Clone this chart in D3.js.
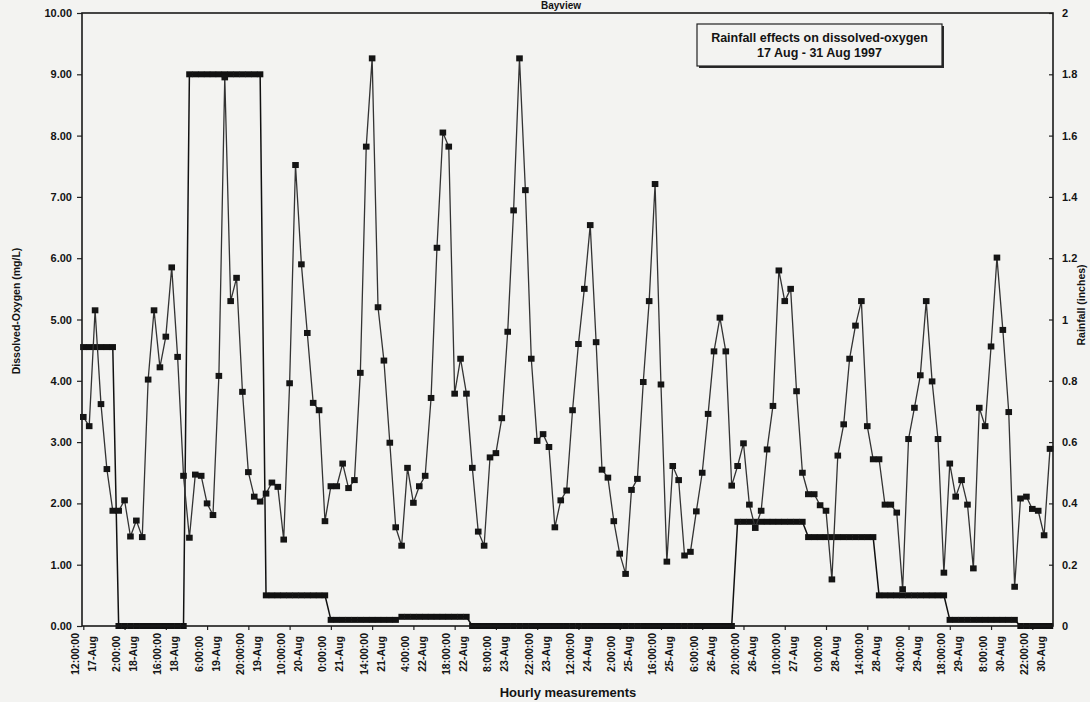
<!DOCTYPE html>
<html>
<head>
<meta charset="utf-8">
<script src="https://cdn.jsdelivr.net/npm/d3@7"></script>
<style>
  body { margin: 0; background: #f3f3f1; }
  svg { display: block; }
  text { font-family: "Liberation Sans", Arial, sans-serif; font-weight: bold; fill: #141414; }
</style>
</head>
<body>
<svg id="chart" width="1090" height="702"></svg>
<script>
// Dissolved oxygen (mg/L), one reading every two hours, 17 Aug 12:00 onward
const dissolvedOxygen = [
  3.41, 3.26, 5.15, 3.62, 2.56, 1.88, 1.88, 2.05, 1.46, 1.72, 1.45, 4.02,
  5.15, 4.22, 4.72, 5.85, 4.39, 2.45, 1.44, 2.47, 2.45, 2.00, 1.81, 4.08,
  8.95, 5.30, 5.68, 3.82, 2.51, 2.11, 2.03, 2.16, 2.34, 2.27, 1.41, 3.96,
  7.52, 5.90, 4.78, 3.64, 3.52, 1.71, 2.28, 2.28, 2.65, 2.25, 2.38, 4.13,
  7.82, 9.26, 5.20, 4.33, 2.99, 1.61, 1.31, 2.58, 2.01, 2.28, 2.45, 3.72,
  6.17, 8.05, 7.82, 3.79, 4.36, 3.79, 2.58, 1.54, 1.31, 2.75, 2.82, 3.39,
  4.80, 6.78, 9.26, 7.11, 4.36, 3.02, 3.13, 2.92, 1.61, 2.05, 2.21, 3.52,
  4.60, 5.50, 6.54, 4.63, 2.55, 2.42, 1.71, 1.18, 0.85, 2.22, 2.40, 3.98,
  5.30, 7.21, 3.94, 1.05, 2.61, 2.38, 1.15, 1.21, 1.87, 2.50, 3.46, 4.48,
  5.03, 4.48, 2.29, 2.61, 2.98, 1.98, 1.60, 1.88, 2.88, 3.59, 5.80, 5.30,
  5.50, 3.83, 2.50, 2.15, 2.15, 1.97, 1.88, 0.76, 2.78, 3.29, 4.36, 4.90,
  5.30, 3.26, 2.72, 2.72, 1.98, 1.98, 1.85, 0.60, 3.05, 3.56, 4.09, 5.30,
  3.99, 3.05, 0.87, 2.65, 2.11, 2.38, 1.98, 0.94, 3.56, 3.26, 4.56, 6.01,
  4.83, 3.49, 0.64, 2.08, 2.11, 1.91, 1.88, 1.48, 2.89
];

// Daily rainfall (inches), repeated at every reading of that day
const rainfall = [
  0.91, 0.91, 0.91, 0.91, 0.91, 0.91,
  0, 0, 0, 0, 0, 0, 0, 0, 0, 0, 0, 0,
  1.8, 1.8, 1.8, 1.8, 1.8, 1.8, 1.8, 1.8, 1.8, 1.8, 1.8, 1.8, 1.8,
  0.1, 0.1, 0.1, 0.1, 0.1, 0.1, 0.1, 0.1, 0.1, 0.1, 0.1,
  0.02, 0.02, 0.02, 0.02, 0.02, 0.02, 0.02, 0.02, 0.02, 0.02, 0.02, 0.02,
  0.03, 0.03, 0.03, 0.03, 0.03, 0.03, 0.03, 0.03, 0.03, 0.03, 0.03, 0.03,
  0, 0, 0, 0, 0, 0, 0, 0, 0, 0, 0, 0, 0, 0, 0,
  0, 0, 0, 0, 0, 0, 0, 0, 0, 0, 0, 0, 0, 0, 0,
  0, 0, 0, 0, 0, 0, 0, 0, 0, 0, 0, 0, 0, 0, 0,
  0.34, 0.34, 0.34, 0.34, 0.34, 0.34, 0.34, 0.34, 0.34, 0.34, 0.34, 0.34,
  0.29, 0.29, 0.29, 0.29, 0.29, 0.29, 0.29, 0.29, 0.29, 0.29, 0.29, 0.29,
  0.1, 0.1, 0.1, 0.1, 0.1, 0.1, 0.1, 0.1, 0.1, 0.1, 0.1, 0.1,
  0.02, 0.02, 0.02, 0.02, 0.02, 0.02, 0.02, 0.02, 0.02, 0.02, 0.02, 0.02,
  0, 0, 0, 0, 0, 0
];

// Category labels shown on every 7th reading (time, date)
const labelTimes = [
  "12:00:00", "2:00:00", "16:00:00", "6:00:00", "20:00:00", "10:00:00",
  "0:00:00", "14:00:00", "4:00:00", "18:00:00", "8:00:00", "22:00:00",
  "12:00:00", "2:00:00", "16:00:00", "6:00:00", "20:00:00", "10:00:00",
  "0:00:00", "14:00:00", "4:00:00", "18:00:00", "8:00:00", "22:00:00"
];
const labelDates = [
  "17-Aug", "18-Aug", "18-Aug", "19-Aug", "19-Aug", "20-Aug",
  "21-Aug", "21-Aug", "22-Aug", "22-Aug", "23-Aug", "23-Aug",
  "24-Aug", "25-Aug", "25-Aug", "26-Aug", "26-Aug", "27-Aug",
  "28-Aug", "28-Aug", "29-Aug", "29-Aug", "30-Aug", "30-Aug"
];
const labelStep = 7;

const leftTicks = [0, 1, 2, 3, 4, 5, 6, 7, 8, 9, 10];
const rightTicks = [0, 0.2, 0.4, 0.6, 0.8, 1, 1.2, 1.4, 1.6, 1.8, 2];
const rightTickLabels = ["0", "0.2", "0.4", "0.6", "0.8", "1", "1.2", "1.4", "1.6", "1.8", "2"];

const chartTitle = "Bayview";
const boxLines = ["Rainfall effects on dissolved-oxygen", "17 Aug - 31 Aug 1997"];
const leftTitle = "Dissolved-Oxygen (mg/L)";
const rightTitle = "Rainfall (inches)";
const bottomTitle = "Hourly measurements";

// ---- layout ----
const plot = { left: 82, right: 1053, top: 13, bottom: 626 };
const svg = d3.select("#chart");

const x = d3.scaleLinear()
  .domain([0, dissolvedOxygen.length - 1])
  .range([83.3, 1050]);
const yLeft = d3.scaleLinear().domain([0, 10]).range([plot.bottom, plot.top]);
const yRight = d3.scaleLinear().domain([0, 2]).range([plot.bottom, plot.top]);

// title, squeezed into the strip above the frame
svg.append("text")
  .attr("x", 561).attr("y", 9)
  .attr("text-anchor", "middle")
  .style("font-size", "10px")
  .text(chartTitle);

// left axis
const gLeft = svg.append("g")
  .attr("transform", `translate(${plot.left},0)`)
  .call(d3.axisLeft(yLeft).tickValues(leftTicks).tickFormat(d3.format(".2f"))
    .tickSizeInner(5).tickSizeOuter(0).tickPadding(5));
gLeft.select(".domain").remove();
gLeft.selectAll("line").attr("stroke", "#222").attr("stroke-width", 1.2);
gLeft.selectAll("text").style("font-size", "11px").style("font-family", null).attr("fill", "#141414");

// right axis
const gRight = svg.append("g")
  .attr("transform", `translate(${plot.right},0)`)
  .call(d3.axisRight(yRight).tickValues(rightTicks)
    .tickFormat((d, i) => rightTickLabels[i])
    .tickSizeInner(-4).tickSizeOuter(0).tickPadding(9));
gRight.select(".domain").remove();
gRight.selectAll("line").attr("stroke", "#222").attr("stroke-width", 1.2);
gRight.selectAll("text").style("font-size", "11px").style("font-family", null).attr("fill", "#141414");

// bottom axis ticks and two-line rotated labels
const labelIdx = d3.range(0, dissolvedOxygen.length, labelStep);
const gBottom = svg.append("g")
  .attr("transform", `translate(0,${plot.bottom})`)
  .call(d3.axisBottom(x).tickValues(labelIdx).tickFormat("")
    .tickSizeInner(4).tickSizeOuter(0));
gBottom.select(".domain").remove();
gBottom.selectAll("line").attr("stroke", "#222").attr("stroke-width", 1.2);

const lab = svg.append("g").selectAll("g")
  .data(labelIdx)
  .join("g")
  .attr("transform", d => `translate(${x(d)},654) rotate(-90)`);
lab.append("text")
  .attr("x", 0).attr("y", -4.5)
  .attr("text-anchor", "middle")
  .style("font-size", "10.5px")
  .text((d, i) => labelTimes[i]);
lab.append("text")
  .attr("x", 0).attr("y", 12.5)
  .attr("text-anchor", "middle")
  .style("font-size", "10.5px")
  .text((d, i) => labelDates[i]);

// axis titles
svg.append("text")
  .attr("transform", "translate(20,311) rotate(-90)")
  .attr("text-anchor", "middle")
  .style("font-size", "10.5px")
  .text(leftTitle);
svg.append("text")
  .attr("transform", "translate(1085,305) rotate(-90)")
  .attr("text-anchor", "middle")
  .style("font-size", "10.5px")
  .text(rightTitle);
svg.append("text")
  .attr("x", 568).attr("y", 697)
  .attr("text-anchor", "middle")
  .style("font-size", "13px")
  .text(bottomTitle);

// rainfall series: thin line with square markers that merge into bars
const rainLine = d3.line().x((d, i) => x(i)).y(d => yRight(d));
svg.append("path")
  .datum(rainfall)
  .attr("fill", "none")
  .attr("stroke", "#111")
  .attr("stroke-width", 1.5)
  .attr("d", rainLine);
svg.append("g").selectAll("rect")
  .data(rainfall)
  .join("rect")
  .attr("x", (d, i) => x(i) - 3.2)
  .attr("y", d => yRight(d) - 3)
  .attr("width", 6.4).attr("height", 6)
  .attr("fill", "#111");

// dissolved oxygen series
const doLine = d3.line().x((d, i) => x(i)).y(d => yLeft(d));
svg.append("path")
  .datum(dissolvedOxygen)
  .attr("fill", "none")
  .attr("stroke", "#333")
  .attr("stroke-width", 1.3)
  .attr("stroke-linejoin", "round")
  .attr("d", doLine);
svg.append("g").selectAll("rect")
  .data(dissolvedOxygen)
  .join("rect")
  .attr("x", (d, i) => x(i) - 3.3)
  .attr("y", d => yLeft(d) - 3)
  .attr("width", 6.6).attr("height", 6)
  .attr("fill", "#141414");

// plot frame
svg.append("rect")
  .attr("x", plot.left).attr("y", plot.top)
  .attr("width", plot.right - plot.left).attr("height", plot.bottom - plot.top)
  .attr("fill", "none").attr("stroke", "#1a1a1a").attr("stroke-width", 1.6);

// boxed caption with shadow
const box = { x: 697, y: 24, w: 245, h: 42 };
svg.append("rect")
  .attr("x", box.x + 2).attr("y", box.y + 2)
  .attr("width", box.w).attr("height", box.h)
  .attr("fill", "#2a2a2a");
svg.append("rect")
  .attr("x", box.x).attr("y", box.y)
  .attr("width", box.w).attr("height", box.h)
  .attr("fill", "#f3f3f1").attr("stroke", "#222").attr("stroke-width", 1.2);
svg.append("text")
  .attr("x", box.x + box.w / 2).attr("y", 42)
  .attr("text-anchor", "middle")
  .style("font-size", "12.5px")
  .text(boxLines[0]);
svg.append("text")
  .attr("x", box.x + box.w / 2).attr("y", 57)
  .attr("text-anchor", "middle")
  .style("font-size", "12.5px")
  .text(boxLines[1]);
</script>
</body>
</html>
